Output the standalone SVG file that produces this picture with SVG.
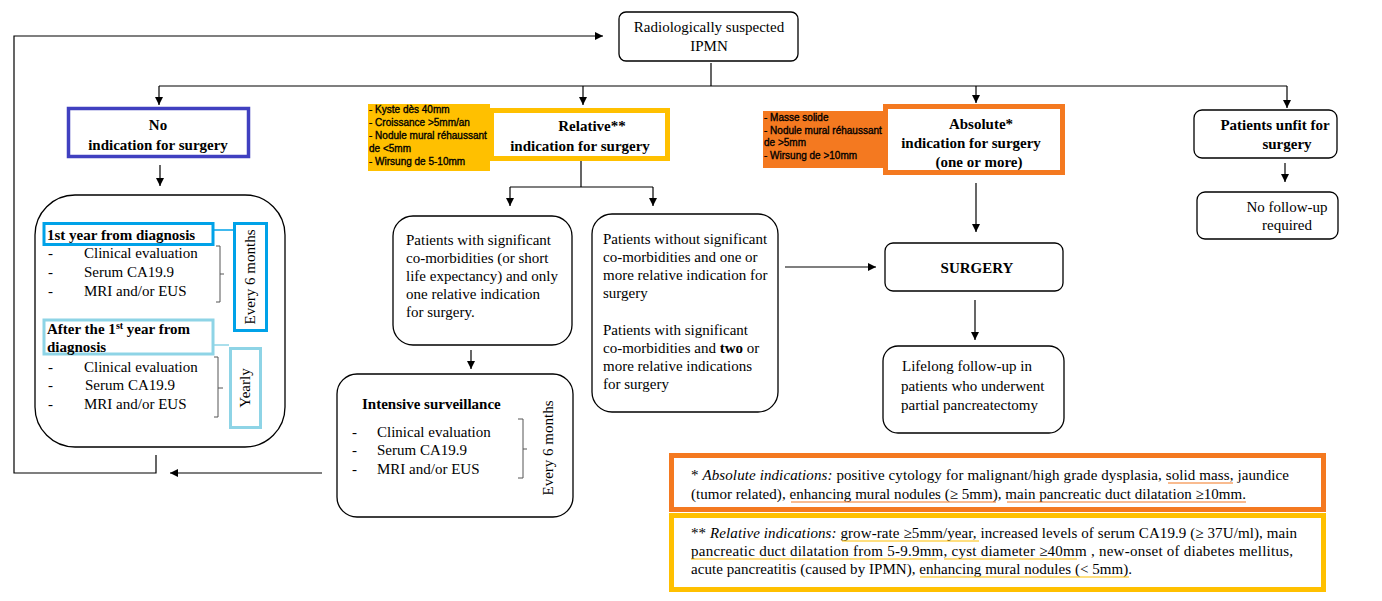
<svg xmlns="http://www.w3.org/2000/svg" width="1382" height="601" viewBox="0 0 1382 601">
<style>
.box{fill:#fff;stroke:#000;stroke-width:1.3}
.t{font-family:"Liberation Serif","Times New Roman",serif;font-size:15px;fill:#000}
.b{font-weight:bold}
.m{text-anchor:middle}
.lbl{font-family:"Liberation Sans",Arial,sans-serif;font-size:10px;fill:#000;stroke:#000;stroke-width:0.35}
.c{fill:none;stroke:#000;stroke-width:1.2}
.br{fill:none;stroke:#555;stroke-width:1}
.ulo{stroke:#F47920;stroke-width:1.2}
.uly{stroke:#FFC000;stroke-width:1.2}
</style>
<defs>
<marker id="ah" viewBox="0 0 10 10" refX="10" refY="5" markerWidth="8" markerHeight="8" markerUnits="userSpaceOnUse" orient="auto"><path d="M0,0 L10,5 L0,10 z" fill="#000"/></marker>
</defs>
<rect width="1382" height="601" fill="#fff"/>

<g id="connectors">
<path class="c" d="M711,63 V86 M159,86 H1287"/>
<path class="c" d="M159,86 V105" marker-end="url(#ah)"/>
<path class="c" d="M583,86 V105" marker-end="url(#ah)"/>
<path class="c" d="M976,86 V103" marker-end="url(#ah)"/>
<path class="c" d="M1287,86 V108" marker-end="url(#ah)"/>
<path class="c" d="M156,455 V473 H14 V36 H603" marker-end="url(#ah)"/>
<path class="c" d="M322,473 H170" marker-end="url(#ah)"/>
<path class="c" d="M160,165 V186" marker-end="url(#ah)"/>
<path class="c" d="M581,161 V187 M510,187 H653"/>
<path class="c" d="M510,187 V206" marker-end="url(#ah)"/>
<path class="c" d="M653,187 V206" marker-end="url(#ah)"/>
<path class="c" d="M471,350 V369" marker-end="url(#ah)"/>
<path class="c" d="M785,267 H876" marker-end="url(#ah)"/>
<path class="c" d="M976,183 V232" marker-end="url(#ah)"/>
<path class="c" d="M975,300 V340" marker-end="url(#ah)"/>
<path class="c" d="M1285,163 V182" marker-end="url(#ah)"/>
</g>

<g id="start">
<rect class="box" x="619" y="12" width="179" height="49" rx="7"/>
<text class="t m" x="709" y="32">Radiologically suspected</text>
<text class="t m" x="709" y="51">IPMN</text>
</g>

<g id="no-indication">
<rect x="68.5" y="108.5" width="180" height="48" fill="#fff" stroke="#4040C0" stroke-width="3.5"/>
<text class="t b m" x="158" y="130">No</text>
<text class="t b m" x="158" y="150">indication for surgery</text>
</g>

<g id="follow-up-box">
<rect class="box" x="35" y="195" width="250" height="252" rx="40"/>
<rect x="44" y="223.5" width="169" height="21" fill="#fff" stroke="#00A2E8" stroke-width="3"/>
<text class="t b" x="47" y="240">1st year from diagnosis</text>
<path d="M213,230 H233" stroke="#00A2E8" stroke-width="1.5"/>
<rect x="234.5" y="223.5" width="32" height="107" fill="#fff" stroke="#00A2E8" stroke-width="3"/>
<text class="t m" transform="translate(255,277) rotate(-90)">Every 6 months</text>
<text class="t" x="48" y="258">-</text><text class="t" x="84" y="258">Clinical evaluation</text>
<text class="t" x="48" y="277">-</text><text class="t" x="84" y="277">Serum CA19.9</text>
<text class="t" x="48" y="296">-</text><text class="t" x="84" y="296">MRI and/or EUS</text>
<path class="br" d="M216,246 H220 V302 H216 M220,274 H224"/>
<rect x="44" y="320" width="169" height="34" fill="none" stroke="#8ED4E6" stroke-width="3"/>
<text class="t b" x="47" y="334">After the 1<tspan font-size="10" dy="-5">st</tspan><tspan dy="5"> year from</tspan></text>
<text class="t b" x="47" y="352">diagnosis</text>
<path d="M213,345 H229" stroke="#8ED4E6" stroke-width="1.5"/>
<rect x="230.5" y="348.5" width="30" height="79" fill="#fff" stroke="#8ED4E6" stroke-width="3"/>
<text class="t m" transform="translate(250,388) rotate(-90)">Yearly</text>
<text class="t" x="48" y="372">-</text><text class="t" x="84" y="372">Clinical evaluation</text>
<text class="t" x="48" y="390">-</text><text class="t" x="85" y="390">Serum CA19.9</text>
<text class="t" x="48" y="409">-</text><text class="t" x="84" y="409">MRI and/or EUS</text>
<path class="br" d="M214,357 H218 V417 H214 M218,388 H223"/>
</g>

<g id="relative-criteria">
<rect x="368" y="104" width="122" height="67" fill="#FFC000"/>
<text class="lbl" x="369" y="113">- Kyste dès 40mm</text>
<text class="lbl" x="369" y="126">- Croissance &gt;5mm/an</text>
<text class="lbl" x="369" y="139">- Nodule mural réhaussant</text>
<text class="lbl" x="369" y="152">de &lt;5mm</text>
<text class="lbl" x="369" y="165">- Wirsung de 5-10mm</text>
</g>

<g id="relative">
<rect x="491.5" y="110.5" width="176" height="48" fill="#fff" stroke="#FFC000" stroke-width="5"/>
<text class="t b m" x="592" y="131" font-size="16">Relative**</text>
<text class="t b m" x="580" y="151" font-size="16">indication for surgery</text>
</g>

<g id="absolute-criteria">
<rect x="763" y="111" width="121" height="57" fill="#F47920"/>
<text class="lbl" x="764" y="121">- Masse solide</text>
<text class="lbl" x="764" y="134">- Nodule mural réhaussant</text>
<text class="lbl" x="764" y="146">de &gt;5mm</text>
<text class="lbl" x="764" y="159">- Wirsung de &gt;10mm</text>
</g>

<g id="absolute">
<rect x="885.5" y="106.5" width="177" height="66" fill="#fff" stroke="#F47920" stroke-width="5"/>
<text class="t b m" x="981" y="129" font-size="16">Absolute*</text>
<text class="t b m" x="971" y="148" font-size="16">indication for surgery</text>
<text class="t b m" x="979" y="167" font-size="16">(one or more)</text>
</g>

<g id="unfit">
<rect class="box" x="1194" y="110" width="143" height="48" rx="8"/>
<text class="t b m" x="1275" y="130">Patients unfit  for</text>
<text class="t b m" x="1287" y="149">surgery</text>
</g>

<g id="no-follow-up">
<rect class="box" x="1197" y="192" width="141" height="47" rx="8"/>
<text class="t m" x="1287" y="212">No follow-up</text>
<text class="t m" x="1287" y="230">required</text>
</g>

<g id="one-relative">
<rect class="box" x="393" y="216" width="179" height="129" rx="20"/>
<text class="t" x="406" y="245">Patients with significant</text>
<text class="t" x="406" y="263">co-morbidities (or short</text>
<text class="t" x="406" y="281">life expectancy) and only</text>
<text class="t" x="406" y="299">one relative indication</text>
<text class="t" x="406" y="317">for surgery.</text>
</g>

<g id="multiple-relative">
<rect class="box" x="592" y="214" width="186" height="198" rx="20"/>
<text class="t" x="603" y="244">Patients without significant</text>
<text class="t" x="603" y="262">co-morbidities and one or</text>
<text class="t" x="603" y="280">more relative indication for</text>
<text class="t" x="603" y="298">surgery</text>
<text class="t" x="603" y="335">Patients with significant</text>
<text class="t" x="603" y="353">co-morbidities and <tspan class="b">two</tspan> or</text>
<text class="t" x="603" y="371">more relative indications</text>
<text class="t" x="603" y="389">for surgery</text>
</g>

<g id="intensive">
<rect class="box" x="337" y="374" width="236" height="143" rx="20"/>
<text class="t b" x="362" y="409">Intensive surveillance</text>
<text class="t" x="352" y="437">-</text><text class="t" x="377" y="437">Clinical evaluation</text>
<text class="t" x="352" y="455">-</text><text class="t" x="377" y="455">Serum CA19.9</text>
<text class="t" x="352" y="474">-</text><text class="t" x="377" y="474">MRI and/or EUS</text>
<path class="br" d="M518,419 H523 V478 H518 M523,449 H527"/>
<text class="t m" transform="translate(553,448) rotate(-90)">Every 6 months</text>
</g>

<g id="surgery">
<rect class="box" x="885" y="243" width="178" height="48" rx="8"/>
<text class="t b m" x="977" y="273">SURGERY</text>
</g>

<g id="lifelong">
<rect class="box" x="883" y="346" width="181" height="87" rx="15"/>
<text class="t" x="902" y="371">Lifelong follow-up in</text>
<text class="t" x="901" y="391">patients who underwent</text>
<text class="t" x="901" y="410">partial pancreatectomy</text>
</g>

<g id="legend-absolute">
<rect x="671.5" y="455.5" width="652" height="54" fill="#fff" stroke="#F47920" stroke-width="5"/>
<text class="t" x="691" y="480" font-size="14" textLength="598" lengthAdjust="spacing">* <tspan font-style="italic">Absolute indications:</tspan>  positive cytology for malignant/high grade dysplasia, solid mass, jaundice</text>
<text class="t" x="691" y="499" font-size="14" textLength="555" lengthAdjust="spacing">(tumor related), enhancing mural nodules (≥ 5mm), main pancreatic duct dilatation ≥10mm.</text>
<path class="ulo" d="M1168,483 H1233 M791,502 H996 M1007,502 H1246"/>
</g>

<g id="legend-relative">
<rect x="671.5" y="515.5" width="652" height="74" fill="#fff" stroke="#FFC000" stroke-width="5"/>
<text class="t" x="691" y="538" font-size="14" textLength="606" lengthAdjust="spacing">** <tspan font-style="italic">Relative indications:</tspan> grow-rate ≥5mm/year, increased levels of serum CA19.9 (≥ 37U/ml), main</text>
<text class="t" x="691" y="556" font-size="14" textLength="602" lengthAdjust="spacing">pancreatic duct dilatation from 5-9.9mm, cyst diameter ≥40mm , new-onset of diabetes mellitus,</text>
<text class="t" x="691" y="574" font-size="14" textLength="441" lengthAdjust="spacing">acute pancreatitis (caused by IPMN), enhancing mural nodules (&lt; 5mm).</text>
<path class="uly" d="M842,541 H979 M691,559 H937 M944,559 H1077 M920,577 H1129"/>
</g>
</svg>
